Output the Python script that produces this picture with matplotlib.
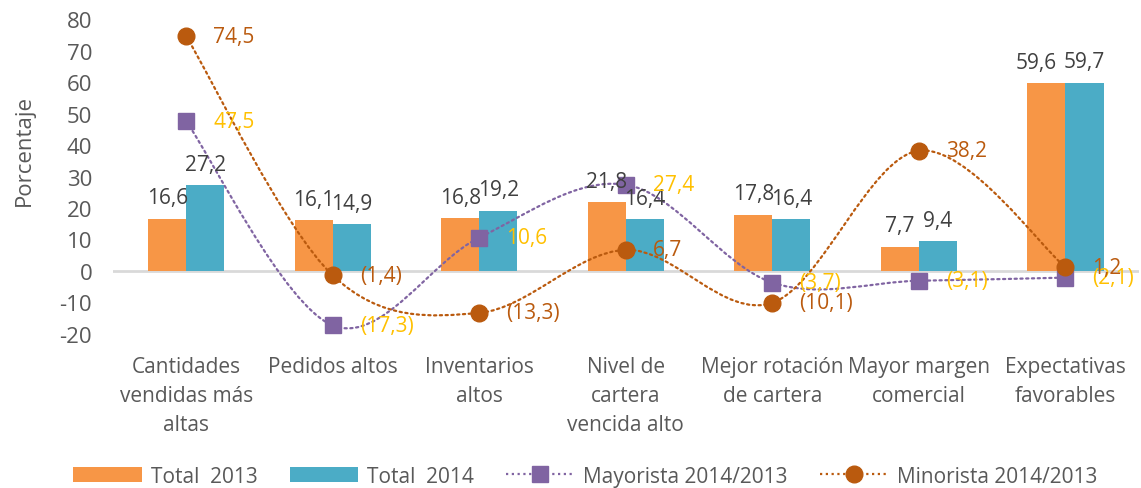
import matplotlib
matplotlib.use("Agg")
import matplotlib.pyplot as plt
from matplotlib.path import Path
from matplotlib.patches import PathPatch, Patch
from matplotlib.lines import Line2D
import numpy as np

plt.rcParams["font.family"] = ["Open Sans", "DejaVu Sans"]

# ── data ────────────────────────────────────────────────────────────
categories = [
    "Cantidades\nvendidas más\naltas",
    "Pedidos altos",
    "Inventarios\naltos",
    "Nivel de\ncartera\nvencida alto",
    "Mejor rotación\nde cartera",
    "Mayor margen\ncomercial",
    "Expectativas\nfavorables",
]
total_2013 = [16.6, 16.1, 16.8, 21.8, 17.8, 7.7, 59.6]
total_2014 = [27.2, 14.9, 19.2, 16.4, 16.4, 9.4, 59.7]
mayorista = [47.5, -17.3, 10.6, 27.4, -3.7, -3.1, -2.1]
minorista = [74.5, -1.4, -13.3, 6.7, -10.1, 38.2, 1.2]
y_ticks = list(range(-20, 81, 10))

C_2013 = "#F79646"
C_2014 = "#4BACC6"
C_MAY = "#8064A2"
C_MIN = "#BA5A0E"
C_MAY_LBL = "#FFC000"
C_TXT = "#595959"
C_LBL = "#404040"


def fmt(v):
    s = f"{abs(v):.1f}".replace(".", ",")
    return f"({s})" if v < 0 else s


def smooth_path(xs, ys):
    # Excel-style smoothed line: cubic Bezier segments (Catmull-Rom control points)
    pts = np.column_stack([xs, ys]).astype(float)
    n = len(pts)
    verts = [pts[0]]
    codes = [Path.MOVETO]
    for i in range(n - 1):
        p_prev = pts[max(i - 1, 0)]
        p0, p1 = pts[i], pts[i + 1]
        p_next = pts[min(i + 2, n - 1)]
        c1 = p0 + (p1 - p_prev) / 6.0
        c2 = p1 - (p_next - p0) / 6.0
        verts += [c1, c2, p1]
        codes += [Path.CURVE4] * 3
    return Path(verts, codes)


fig = plt.figure(figsize=(11.41, 4.89), dpi=100)
ax = fig.add_axes([0.099, 0.315, 0.899, 0.644])

x = np.arange(len(categories))
w = 0.26

ax.bar(x - w / 2, total_2013, width=w, color=C_2013, zorder=2)
ax.bar(x + w / 2, total_2014, width=w, color=C_2014, zorder=2)
ax.axhline(0, color="#D9D9D9", lw=2, zorder=1)

# bar labels; the last pair is pushed apart like Excel does to avoid overlap
for i, (xi, v) in enumerate(zip(x - w / 2, total_2013)):
    dx = -10 if i == len(x) - 1 else 0
    ax.annotate(fmt(v), (xi, v), xytext=(dx, 21), textcoords="offset pixels",
                ha="center", va="center", fontsize=15, color=C_LBL, zorder=5)
for xi, v in zip(x + w / 2, total_2014):
    ax.annotate(fmt(v), (xi, v), xytext=(0, 21), textcoords="offset pixels",
                ha="center", va="center", fontsize=15, color=C_LBL, zorder=5)

dot = (0, (1, 1.6))
for vals, col, lbl_col, mk, ms in [
    (mayorista, C_MAY, C_MAY_LBL, "s", 11.5),
    (minorista, C_MIN, C_MIN, "o", 12),
]:
    ax.add_patch(PathPatch(smooth_path(x, vals), fill=False, edgecolor=col,
                           lw=1.6, linestyle=dot, capstyle="round", zorder=3))
    ax.plot(x, vals, linestyle="none", marker=mk, ms=ms, color=col, zorder=4)
    for xi, v in zip(x, vals):
        ax.annotate(fmt(v), (xi, v), xytext=(27, 0), textcoords="offset pixels",
                    ha="left", va="center", fontsize=15, color=lbl_col, zorder=6)

ax.set_xlim(-0.5, len(categories) - 0.5)
ax.set_ylim(-20, 80)
ax.set_yticks(y_ticks)
ax.set_yticklabels([str(t) for t in y_ticks], fontsize=16)
ax.set_xticks(x)
ax.set_xticklabels(categories, linespacing=1.5, fontsize=15)
ax.tick_params(axis="both", length=0, labelcolor=C_TXT)
ax.tick_params(axis="y", pad=15)
ax.tick_params(axis="x", pad=16)
for s in ax.spines.values():
    s.set_visible(False)

fig.text(0.021, 1 - 150 / 489, "Porcentaje", rotation=90, ha="center", va="center",
         fontsize=16, color=C_TXT)

handles = [
    Patch(facecolor=C_2013, label="Total  2013"),
    Patch(facecolor=C_2014, label="Total  2014"),
    Line2D([], [], color=C_MAY, lw=1.6, linestyle=dot, marker="s", ms=11.5,
           label="Mayorista 2014/2013"),
    Line2D([], [], color=C_MIN, lw=1.6, linestyle=dot, marker="o", ms=12,
           label="Minorista 2014/2013"),
]
fig.legend(handles=handles, loc="center", bbox_to_anchor=(0.513, 0.024), ncol=4,
           frameon=False, fontsize=15, handlelength=3.3, handleheight=0.8,
           columnspacing=1.55, handletextpad=0.4, labelcolor=C_TXT)

fig.savefig("out.png", dpi=100)
